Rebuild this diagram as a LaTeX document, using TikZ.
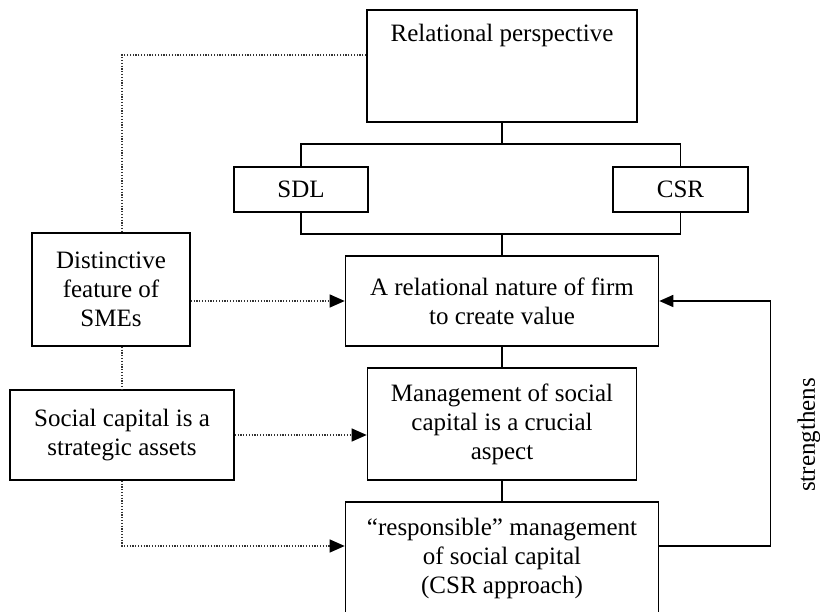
\documentclass[tikz,border=0pt]{standalone}
\usepackage{fontspec}
\setmainfont{Liberation Serif}
\usetikzlibrary{arrows.meta,positioning}

\begin{document}
\begin{tikzpicture}[x=1pt,y=1pt,font=\fontsize{25}{29}\selectfont,
  bx/.style={draw,line width=1.6pt,align=center,inner sep=0pt},
  ln/.style={line width=1.6pt},
  arr/.style={line width=1.6pt,-{Triangle[length=14pt,width=12pt]}},
  dt/.style={line width=1.2pt,black!80,dash pattern=on 1.2pt off 1.6pt},
  dtarr/.style={dt,-{Triangle[length=15pt,width=13pt,color=black]}}]
\useasboundingbox (0,0) rectangle (820,-612);
\node[bx,minimum width=270pt,text height=32pt,text depth=80pt] (rp) at (502,-66) {Relational perspective};
\node[bx,minimum width=134pt,minimum height=45pt] (sdl) at (301,-189.5) {SDL};
\node[bx,minimum width=135pt,minimum height=45pt] (csr) at (680.5,-189.5) {CSR};
\node[bx,minimum width=313pt,minimum height=90pt] (arn) at (502,-301) {A relational nature of firm\\to create value};
\node[bx,minimum width=269pt,minimum height=112pt] (msc) at (502,-424) {Management of social\\capital is a crucial\\aspect};
\node[bx,minimum width=313pt,minimum height=112pt] (rsp) at (502,-558) {“responsible” management\\of social capital\\(CSR approach)};
\node[bx,minimum width=158pt,minimum height=113pt] (dfs) at (111,-289.5) {Distinctive\\feature of\\SMEs};
\node[bx,minimum width=224pt,minimum height=90pt] (scs) at (122,-435) {Social capital is a\\strategic assets};
\node[rotate=90] (str) at (809,-435) {strengthens};
\coordinate (tp) at (502,-144);
\coordinate (bt) at (502,-234);
\draw[ln] (rp) -- (tp);
\draw[ln] (sdl.north) |- (tp) -| (csr.north);
\draw[ln] (sdl.south) |- (bt) -| (csr.south);
\draw[ln] (bt) -- (arn); \draw[ln] (arn) -- (msc); \draw[ln] (msc) -- (rsp);
\draw[dt] ([yshift=11pt]rp.west) -| (scs.north |- dfs.north);
\draw[dt] (scs.north |- dfs.south) -- (scs.north);
\draw[dtarr] (dfs.east |- arn.west) -- (arn.west);
\draw[dtarr] (scs.east) -- (scs.east -| msc.west);
\draw[dtarr] (scs.south) |- ([yshift=12pt]rsp.west);
\draw[arr] ([yshift=12pt]rsp.east) -| ([xshift=111pt]arn.east) -- (arn.east);
\end{tikzpicture}
\end{document}
